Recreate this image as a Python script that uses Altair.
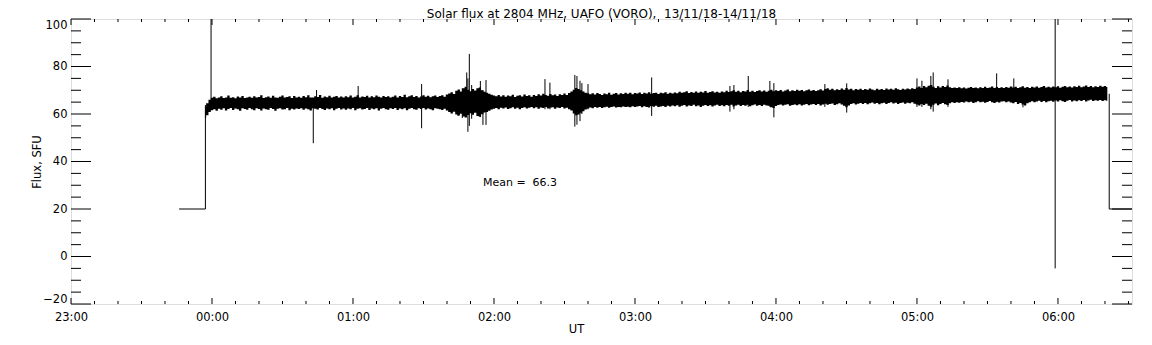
import altair as alt
import pandas as pd

FONT = "DejaVu Sans"

# ---------------- data (time = minutes after 23:00 UT, 13/11/18) ----------------
# noisy flux band, upper / lower envelope read at 1-minute steps from 00:57 (t=57)
band_start = 57
band_hi = [
    63.0, 64.5, 66.0, 66.8, 67.3, 66.6, 67.0, 67.5, 66.7, 66.9, 67.8, 66.8, 67.1, 66.6, 67.4, 66.9, 67.6, 66.7, 67.0, 67.3,
    66.8, 67.5, 66.9, 67.2, 67.9, 66.7, 67.1, 67.4, 66.8, 67.7, 67.0, 66.8, 67.3, 67.8, 66.9, 67.2, 67.5, 66.7, 67.6, 67.0,
    67.3, 66.8, 67.6, 67.1, 67.9, 67.0, 66.9, 67.5, 67.2, 68.0, 66.8, 67.4, 67.1, 67.7, 66.9, 67.3, 67.6, 67.0, 67.4, 66.9,
    67.5, 67.1, 67.8, 66.9, 67.3, 67.9, 67.0, 67.4, 67.2, 67.7, 66.9, 67.5, 67.1, 67.8, 67.3, 66.9, 67.6, 67.2, 67.5, 67.0,
    67.3, 67.8, 67.0, 67.6, 67.2, 68.1, 67.1, 67.5, 67.9, 67.2, 67.6, 67.0, 67.4, 67.9, 67.3, 67.7, 67.1, 67.5, 67.8, 67.2,
    67.6, 67.9, 67.3, 68.2, 68.6, 69.2, 68.4, 69.8, 70.3, 69.5, 70.8, 71.5, 70.2, 69.6, 70.5, 69.9, 70.8, 71.2, 70.0, 69.4,
    69.0, 68.5, 68.1, 67.8, 67.5, 68.0, 67.4, 67.9, 67.3, 67.8, 67.5, 68.1, 67.2, 67.7, 67.9, 67.4, 68.2, 67.6, 67.9, 67.3,
    68.0, 67.6, 68.3, 67.8, 68.5, 68.0, 67.7, 68.4, 67.9, 68.2, 67.6, 68.3, 68.0, 68.6, 68.0, 68.8, 69.5, 70.2, 71.0, 70.5,
    70.0, 69.5, 69.0, 68.7, 68.3, 68.7, 68.2, 68.8, 68.4, 68.0, 68.6, 68.3, 68.9, 68.1, 68.5, 68.8, 68.2, 68.7, 68.4, 68.9,
    68.5, 68.9, 68.3, 68.8, 68.6, 69.1, 68.4, 68.9, 68.6, 69.2, 68.5, 68.8, 69.0, 68.4, 68.9, 68.7, 69.2, 68.5, 69.0, 68.6,
    69.1, 68.7, 69.4, 68.9, 69.2, 69.6, 68.8, 69.3, 69.0, 69.5, 68.9, 69.4, 69.1, 69.7, 69.0, 69.3, 69.6, 69.1, 69.4, 68.9,
    69.5, 69.2, 69.8, 69.3, 69.6, 70.0, 69.4, 69.8, 69.2, 69.7, 69.5, 70.1, 69.4, 69.8, 69.3, 69.7, 70.0, 69.5, 69.9, 69.4,
    69.8, 70.2, 69.6, 70.0, 69.7, 70.1, 69.5, 69.9, 70.3, 69.6, 70.0, 69.7, 70.2, 69.8, 70.1, 69.6, 70.0, 70.3, 69.8, 70.1,
    69.7, 70.0, 70.4, 69.9, 70.5, 70.8, 70.2, 70.6, 70.0, 70.4, 70.1, 70.7, 70.2, 70.9, 70.3, 70.6, 70.0, 70.5, 70.2, 70.6,
    70.1, 70.5, 70.2, 70.7, 70.3, 70.0, 70.6, 70.2, 70.5, 70.1, 70.7, 70.3, 70.6, 70.2, 70.8, 70.4, 70.1, 70.6, 70.3, 70.7,
    70.4, 70.8, 70.5, 71.2, 71.6, 71.0, 71.8, 71.3, 71.9, 72.2, 71.5, 71.0, 71.7, 71.2, 71.8, 71.4, 72.0, 71.3, 70.9, 71.2,
    70.9, 71.3, 70.8, 71.2, 70.7, 71.1, 71.4, 70.9, 71.2, 70.8, 71.3, 71.0, 71.5, 70.9, 71.2, 71.6, 71.0, 71.4, 70.9, 71.3,
    71.0, 71.4, 71.1, 71.6, 71.2, 71.5, 70.9, 71.3, 71.7, 71.1, 71.4, 71.0, 71.5, 71.2, 71.6, 71.1, 71.4, 71.8, 71.2, 71.5,
    71.2, 71.6, 71.3, 71.7, 71.1, 71.5, 71.8, 71.3, 71.6, 71.2, 71.7, 71.4, 71.9, 71.3, 71.6, 72.0, 71.4, 71.8, 71.3, 71.7,
    71.4, 71.9, 71.5, 71.8, 71.4,
]
band_lo = [
    58.2, 59.5, 60.8, 61.6, 62.0, 61.4, 62.2, 61.8, 62.4, 61.5, 62.1, 62.5, 61.7, 62.3, 62.0, 61.4, 62.4, 62.1, 61.8, 62.5,
    62.0, 61.6, 62.4, 62.1, 61.5, 62.3, 62.0, 61.8, 62.5, 62.1, 61.4, 62.2, 62.4, 61.9, 62.0, 62.5, 61.6, 62.2, 61.9, 62.3,
    62.1, 62.4, 61.8, 62.3, 62.0, 61.5, 62.4, 62.2, 61.9, 62.5, 62.1, 61.7, 62.3, 62.0, 62.4, 61.6, 62.2, 62.5, 61.9, 62.3,
    61.8, 62.3, 62.0, 62.5, 61.6, 62.2, 62.4, 61.9, 62.1, 62.5, 61.7, 62.3, 62.0, 62.4, 61.5, 62.2, 62.5, 62.0, 61.8, 62.4,
    62.1, 62.5, 61.7, 62.3, 62.0, 62.4, 61.6, 62.2, 62.5, 62.0, 61.8, 62.4, 62.1, 62.5, 61.9, 62.3, 62.0, 61.6, 62.4, 62.2,
    62.0, 61.7, 62.2, 61.5, 60.8, 60.2, 60.9, 59.8, 59.4, 60.1, 58.9, 58.5, 59.6, 60.3, 59.7, 60.5, 59.2, 58.8, 59.9, 60.6,
    60.8, 61.4, 61.9, 62.2, 62.5, 62.0, 62.6, 62.3, 62.7, 62.1, 62.4, 62.8, 62.2, 62.6, 62.0, 62.5, 62.8, 62.3, 62.6, 62.9,
    62.4, 62.8, 62.2, 62.7, 62.5, 62.9, 62.3, 62.6, 62.8, 62.2, 62.7, 62.5, 62.9, 62.3, 62.6, 62.0, 61.5, 60.2, 59.5, 59.8,
    60.5, 61.2, 61.9, 62.3, 62.7, 62.4, 62.9, 62.6, 63.0, 62.5, 62.8, 63.1, 62.6, 62.9, 63.2, 62.7, 63.0, 62.8, 63.2, 62.9,
    63.1, 62.8, 63.3, 62.9, 63.2, 63.4, 62.8, 63.3, 63.0, 62.7, 63.4, 63.1, 63.5, 62.9, 63.2, 63.4, 63.0, 63.5, 63.2, 63.6,
    63.3, 63.7, 63.1, 63.5, 63.8, 63.2, 63.6, 63.4, 63.9, 63.3, 63.6, 63.0, 63.5, 63.8, 63.4, 63.7, 63.2, 63.6, 63.9, 63.4,
    63.7, 63.3, 63.8, 63.5, 63.9, 63.2, 63.6, 63.9, 63.4, 63.8, 63.5, 63.9, 63.3, 63.7, 64.0, 63.5, 63.8, 63.4, 63.9, 63.6,
    63.5, 62.8, 62.5, 63.4, 63.8, 64.0, 63.6, 63.9, 64.1, 63.5, 63.8, 64.0, 63.7, 64.1, 63.6, 63.9, 64.2, 63.7, 64.0, 64.2,
    63.8, 64.2, 63.6, 64.0, 64.3, 63.9, 64.2, 64.4, 63.8, 64.1, 64.5, 64.0, 63.5, 62.8, 63.6, 64.2, 64.5, 64.0, 64.3, 64.6,
    64.2, 64.6, 64.1, 64.5, 64.8, 64.3, 64.6, 64.1, 64.5, 64.7, 64.2, 64.6, 64.9, 64.4, 64.7, 64.2, 64.6, 64.8, 64.3, 64.7,
    64.5, 64.9, 64.3, 64.0, 63.6, 64.2, 63.8, 64.3, 63.5, 63.1, 63.9, 64.4, 63.7, 64.2, 64.6, 64.1, 63.8, 64.5, 64.9, 64.6,
    65.0, 64.7, 65.1, 64.8, 65.3, 64.9, 65.2, 64.6, 65.0, 65.4, 64.9, 65.2, 64.7, 65.1, 65.5, 65.0, 64.6, 65.2, 64.8, 65.3,
    65.4, 64.9, 65.3, 64.8, 64.5, 65.1, 64.2, 64.6, 64.0, 63.6, 64.5, 65.0, 65.4, 64.9, 65.3, 65.6, 65.1, 65.5, 65.0, 65.4,
    65.6, 65.2, 65.7, 65.3, 65.8, 65.4, 65.1, 65.6, 65.9, 65.3, 65.7, 65.4, 65.8, 65.5, 65.9, 65.3, 65.7, 66.0, 65.5, 65.8,
    65.6, 65.9, 65.5, 65.8, 65.6,
]

# isolated spikes: time, bottom, top
spike_t = [59.6, 103.1, 104.5, 122.2, 149.2, 164.7, 166.5, 168.4, 168.9, 169.5,
           170.5, 174.2, 175.3, 176.6, 201.7, 203.8, 214.4, 215.3, 216.6, 217.4,
           220.0, 247.1, 280.4, 282.1, 288.2, 297.4, 299.1, 320.8, 330.1, 360.0,
           362.1, 365.9, 366.9, 373.2, 393.9, 401.2, 405.1, 418.8]
spike_lo = [63.0, 47.7, 64.0, 64.0, 54.0, 59.2, 58.3, 60.0, 52.5, 55.0,
            58.0, 58.7, 55.4, 55.4, 62.0, 62.0, 54.7, 55.5, 57.0, 60.0,
            62.0, 59.2, 61.0, 62.0, 63.0, 63.0, 58.6, 63.0, 60.6, 63.0,
            63.0, 62.0, 61.0, 63.0, 65.0, 65.0, 62.8, -5.0]
spike_hi = [101.0, 66.0, 70.1, 71.8, 72.6, 68.0, 70.8, 77.5, 75.0, 85.3,
            72.2, 73.9, 70.0, 74.3, 74.7, 73.2, 76.4, 76.0, 74.0, 73.0,
            72.6, 75.4, 71.8, 72.2, 76.0, 73.9, 73.0, 72.6, 72.9, 75.0,
            74.0, 76.0, 77.5, 74.6, 77.1, 75.0, 70.0, 101.0]

# calibration steps (20 SFU) before and after the observation
step_seg = ["start", "start", "start", "end", "end", "end"]
step_t = [46.0, 57.2, 57.2, 441.8, 441.8, 452.0]
step_v = [20.0, 20.0, 63.8, 68.5, 20.0, 20.0]

y_major = [-20, 0, 20, 40, 60, 80, 100]
y_minor = [-15, -10, -5, 5, 10, 15, 25, 30, 35, 45, 50, 55, 65, 70, 75, 85, 90, 95]
x_major = [0, 60, 120, 180, 240, 300, 360, 420]
x_minor = [10, 20, 30, 40, 50, 70, 80, 90, 100, 110, 130, 140, 150, 160, 170,
           190, 200, 210, 220, 230, 250, 260, 270, 280, 290, 310, 320, 330, 340,
           350, 370, 380, 390, 400, 410, 430, 440, 450]

mean_t = [175.3]
mean_v = [30.9]
mean_text = ["Mean =\u00a0 66.3"]

TITLE = "Solar flux at 2804 MHz, UAFO (VORO),\u00a0 13/11/18-14/11/18"
X_DOMAIN = [0, 451.5]
Y_DOMAIN = [-20, 100]
W, H = 1061, 285
FS = 11.5

assert len(band_hi) == len(band_lo)
band_t = [band_start + i for i in range(len(band_hi))]

# ---------------- tables ----------------
band = pd.DataFrame({"t": band_t, "lo": band_lo, "hi": band_hi})
spikes = pd.DataFrame({"t": spike_t, "lo": spike_lo, "hi": spike_hi})
steps = pd.DataFrame({"t": step_t, "v": step_v, "seg": step_seg,
                      "i": list(range(len(step_t)))})
xmaj = pd.DataFrame({"t": x_major})
xmin = pd.DataFrame({"t": x_minor})
ymaj = pd.DataFrame({"v": y_major})
ymin = pd.DataFrame({"v": y_minor})
mean_df = pd.DataFrame({"t": mean_t, "v": mean_v, "label": mean_text})
title_df = pd.DataFrame({"label": [TITLE]})

x_axis = alt.Axis(
    values=x_major, title="UT", labelExpr=(
        "(datum.value < 60 ? '23' : '0' + floor(datum.value / 60 - 1)) + ':00'"),
    ticks=False, domain=False, grid=False, labelFlush=False, labelPadding=7,
    labelFont=FONT, labelFontSize=FS, labelColor="black",
    titleFont=FONT, titleFontSize=FS, titleFontWeight="normal", titleColor="black",
    titleX=505, titleY=19, titleBaseline="top", titleAlign="center",
)
y_axis = alt.Axis(
    values=y_major, title="Flux, SFU", ticks=False, domain=False, grid=False,
    labelFlush=True, labelPadding=4,
    labelFont=FONT, labelFontSize=FS, labelColor="black",
    titleFont=FONT, titleFontSize=FS, titleFontWeight="normal", titleColor="black",
    titleAngle=270, titleBaseline="bottom",
    titleX=-29, titleY=H / 2, titleAlign="center",
)
xs = alt.Scale(domain=X_DOMAIN, nice=False, zero=False)
ys = alt.Scale(domain=Y_DOMAIN, nice=False, zero=False)


def X(field="t"):
    return alt.X(f"{field}:Q", scale=xs, axis=x_axis)


def Y(field):
    return alt.Y(f"{field}:Q", scale=ys, axis=y_axis)


area = alt.Chart(band).mark_area(
    interpolate="step", color="black", clip=True
).encode(x=X(), y=Y("lo"), y2="hi:Q")

rules = alt.Chart(spikes).mark_rule(color="black", strokeWidth=1, clip=True).encode(
    x=X(), y=Y("lo"), y2="hi:Q")

step_lines = alt.Chart(steps).mark_line(color="black", strokeWidth=1, clip=True).encode(
    x=X(), y=Y("v"), detail="seg:N", order="i:Q")

tick_layers = [
    alt.Chart(xmaj).mark_rule(color="black").encode(x=X(), y=alt.value(H), y2=alt.value(H - 6)),
    alt.Chart(xmaj).mark_rule(color="black").encode(x=X(), y=alt.value(0), y2=alt.value(6)),
    alt.Chart(xmin).mark_rule(color="black").encode(x=X(), y=alt.value(H), y2=alt.value(H - 3)),
    alt.Chart(xmin).mark_rule(color="black").encode(x=X(), y=alt.value(0), y2=alt.value(3)),
    alt.Chart(ymaj).mark_rule(color="black").encode(y=Y("v"), x=alt.value(0), x2=alt.value(20)),
    alt.Chart(ymaj).mark_rule(color="black").encode(y=Y("v"), x=alt.value(W), x2=alt.value(W - 20)),
    alt.Chart(ymin).mark_rule(color="black").encode(y=Y("v"), x=alt.value(0), x2=alt.value(10)),
    alt.Chart(ymin).mark_rule(color="black").encode(y=Y("v"), x=alt.value(W), x2=alt.value(W - 10)),
]

mean_label = alt.Chart(mean_df).mark_text(
    align="left", baseline="middle", font=FONT, fontSize=11, color="black"
).encode(x=X(), y=Y("v"), text="label:N")

title_text = alt.Chart(title_df).mark_text(
    align="center", baseline="alphabetic", font=FONT, fontSize=12, color="black"
).encode(x=alt.value(W / 2), y=alt.value(-1.5), text="label:N")

chart = alt.layer(area, rules, step_lines, *tick_layers, mean_label, title_text).properties(
    width=W, height=H,
    autosize=alt.AutoSizeParams(type="none"),
    padding={"left": 63, "top": 11, "right": 12, "bottom": 30},
).configure_view(
    stroke="black", strokeWidth=1
).configure(background="white")

chart.save("out.html", embed_options={"renderer": "svg", "actions": False})
